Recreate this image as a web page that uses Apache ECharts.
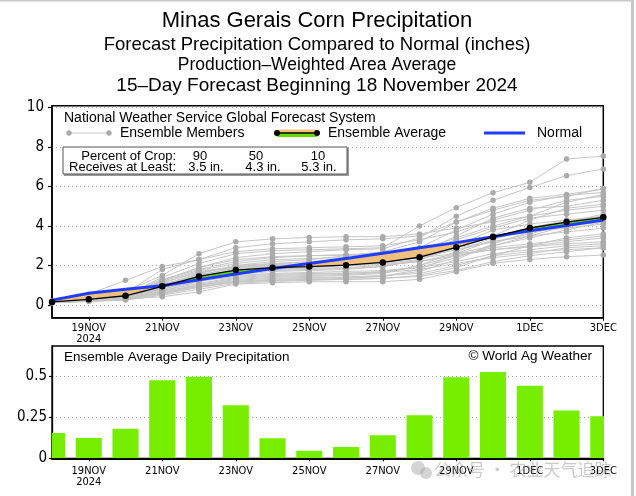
<!DOCTYPE html>
<html><head><meta charset="utf-8">
<script src="https://cdn.jsdelivr.net/npm/echarts@6/dist/echarts.min.js"></script>
<style>html,body{margin:0;padding:0;background:#fff}#c{width:636px;height:496px}</style>
</head><body><div id="c"></div>
<script>
// ---- data ----
const dates = ['18NOV','19NOV','20NOV','21NOV','22NOV','23NOV','24NOV','25NOV','26NOV','27NOV','28NOV','29NOV','30NOV','1DEC','2DEC','3DEC'];
const yearLabel = '2024';
const ensembleAvg = [0.16,0.29,0.47,0.95,1.45,1.77,1.89,1.95,2.02,2.16,2.42,2.92,3.45,3.90,4.20,4.44];
const normalPrecip = [0.25,0.60,0.80,0.98,1.28,1.57,1.85,2.10,2.36,2.62,2.90,3.16,3.46,3.76,4.03,4.30];
const dailyAvg = [0.155,0.124,0.181,0.476,0.497,0.323,0.122,0.046,0.069,0.141,0.262,0.495,0.527,0.442,0.292,0.256];
const ensembleMembers = [
 [0.20,0.55,1.25,1.95,2.30,2.70,2.85,2.90,2.95,3.00,3.30,3.70,4.30,4.80,5.30,5.50],
 [0.18,0.40,0.70,1.50,2.60,3.20,3.35,3.42,3.46,3.46,3.60,3.90,4.20,4.50,4.80,5.00],
 [0.15,0.35,0.60,1.80,2.30,2.90,3.10,3.20,3.30,3.35,3.50,4.20,4.80,5.30,5.50,5.90],
 [0.17,0.30,0.50,1.40,2.10,2.60,2.75,2.80,2.85,2.90,4.00,4.93,5.69,6.21,7.39,7.54],
 [0.16,0.30,0.45,1.20,1.90,2.40,2.60,2.70,2.80,2.85,3.40,4.50,5.30,5.95,6.55,6.89],
 [0.15,0.25,0.40,0.90,1.60,2.00,2.20,2.30,2.50,2.70,3.20,4.20,4.90,5.40,5.60,5.87],
 [0.14,0.28,0.50,1.00,1.50,1.90,2.10,2.20,2.30,2.50,2.90,3.80,4.60,5.20,5.55,5.70],
 [0.16,0.30,0.55,1.30,1.80,2.20,2.40,2.50,2.55,2.60,2.80,3.40,4.00,4.50,5.20,5.60],
 [0.13,0.22,0.35,0.70,1.20,1.60,1.80,1.90,2.00,2.20,2.60,3.50,4.40,4.90,5.00,5.30],
 [0.15,0.30,0.45,0.80,1.30,1.55,1.70,1.75,1.80,1.95,2.30,2.90,3.50,4.30,4.90,5.10],
 [0.17,0.33,0.60,1.10,1.70,1.95,2.05,2.10,2.15,2.20,2.40,2.80,3.20,3.60,4.10,4.50],
 [0.12,0.20,0.30,0.60,1.00,1.30,1.40,1.45,1.50,1.60,2.00,2.70,3.40,3.80,4.20,4.60],
 [0.14,0.25,0.38,0.85,1.40,1.70,1.80,1.85,1.90,2.00,2.20,2.60,3.00,3.40,3.80,4.20],
 [0.15,0.28,0.42,0.95,1.45,1.80,1.95,2.00,2.05,2.10,2.30,3.00,3.80,4.10,4.30,4.40],
 [0.13,0.24,0.35,0.75,1.10,1.40,1.50,1.55,1.60,1.70,1.90,2.40,3.00,3.50,4.00,4.30],
 [0.16,0.32,0.50,1.20,1.75,2.10,2.30,2.35,2.40,2.45,2.60,2.90,3.20,3.50,3.70,3.90],
 [0.12,0.20,0.28,0.55,0.90,1.20,1.30,1.35,1.40,1.45,1.70,2.30,3.10,3.70,4.10,4.30],
 [0.14,0.26,0.40,0.65,1.05,1.35,1.45,1.50,1.55,1.65,2.00,2.50,2.90,3.10,3.30,3.50],
 [0.18,0.35,0.55,1.05,1.55,1.85,1.95,2.00,2.00,2.05,2.20,2.50,2.80,3.00,3.20,3.40],
 [0.11,0.18,0.25,0.50,0.80,1.10,1.20,1.25,1.30,1.35,1.50,1.90,2.50,3.00,3.40,3.60],
 [0.15,0.27,0.45,0.90,1.30,1.50,1.60,1.65,1.70,1.75,1.90,2.20,2.60,2.80,3.00,3.10],
 [0.13,0.23,0.33,0.60,0.95,1.20,1.25,1.28,1.30,1.35,1.45,1.75,2.20,2.50,2.70,2.90],
 [0.12,0.20,0.30,0.42,0.67,1.06,1.13,1.18,1.18,1.18,1.30,1.69,2.11,2.31,2.45,2.53],
 [0.16,0.30,0.48,1.00,1.60,2.00,2.10,2.15,2.20,2.25,2.40,2.60,2.80,2.95,3.10,3.20],
 [0.14,0.25,0.40,0.80,1.20,1.45,1.55,1.60,1.62,1.65,1.80,2.10,2.40,2.60,2.90,3.00],
 [0.15,0.30,0.50,1.15,1.65,1.90,2.00,2.05,2.10,2.30,2.70,3.30,3.90,4.40,4.60,4.80],
 [0.13,0.22,0.32,0.70,1.00,1.25,1.35,1.40,1.42,1.50,1.60,2.00,2.50,2.70,2.80,2.90],
 [0.17,0.32,0.52,1.25,1.90,2.30,2.45,2.50,2.52,2.55,2.70,3.10,3.50,3.70,3.90,4.10],
 [0.14,0.27,0.42,0.60,0.90,1.15,1.25,1.30,1.35,1.45,1.80,2.60,3.30,3.90,4.30,4.50],
 [0.16,0.29,0.46,0.90,1.35,1.65,1.75,1.80,1.85,1.95,2.30,3.00,3.50,3.80,4.00,4.20]
];
const topTicks = [0,2,4,6,8,10];
const bottomTicks = [0,0.25,0.5];
const cropPercent = ['90','50','10'];
const cropAmount = ['3.5 in.','4.3 in.','5.3 in.'];
const titleLines = ['Minas Gerais Corn Precipitation','Forecast Precipitation Compared to Normal (inches)','Production\u2013Weighted Area Average','15\u2013Day Forecast Beginning 18 November 2024'];

// ---- styling ----
const TXT = '"Liberation Sans", Arial, sans-serif';
const NARROW = '"Liberation Sans Narrow","DejaVu Sans Condensed","Liberation Sans", sans-serif';
const GRAY_LINE = '#c6c6c6', GRAY_DOT = '#ababab', BLUE = '#1f3cff', ORANGE = '#efc17c', GREEN = '#66dd00', BAR = '#77ee00';

const chart = echarts.init(document.getElementById('c'), null, {renderer:'canvas'});

function xAxisCfg(grid, margin){
  return {
    gridIndex: grid, type:'category', data: dates, boundaryGap:false,
    axisLine:{show:true, onZero:false, lineStyle:{color:'#000', width: grid===0?1.5:2}},
    axisTick:{show:true, interval:(i)=>i%2===1, length:3, lineStyle:{color:'#000', width:1}},
    axisLabel:{interval:(i)=>i%2===1, margin: margin, color:'#000', fontSize:11, fontFamily:NARROW, lineHeight:11,
      formatter:(v)=> v===dates[1] ? v+'\n'+yearLabel : v},
    splitLine:{show:false}
  };
}

const memberSeries = ensembleMembers.map((m)=>({
  type:'line', xAxisIndex:0, yAxisIndex:0, data:m, symbol:'circle', symbolSize:5.5,
  lineStyle:{color:GRAY_LINE, width:1}, itemStyle:{color:GRAY_DOT}, silent:true, z:2
}));

const bandSeries = {
  type:'custom', xAxisIndex:0, yAxisIndex:0, z:3, silent:true,
  data: ensembleAvg.map((v,i)=>[i, v, normalPrecip[i]]),
  renderItem:function(params, api){
    const i = params.dataIndex;
    if (i >= dates.length-1) return null;
    const a0 = ensembleAvg[i], a1 = ensembleAvg[i+1], n0 = normalPrecip[i], n1 = normalPrecip[i+1];
    const pa0 = api.coord([i, a0]), pa1 = api.coord([i+1, a1]);
    const pn0 = api.coord([i, n0]), pn1 = api.coord([i+1, n1]);
    const d0 = a0-n0, d1 = a1-n1;
    const kids = [];
    const col = (d)=> d>=0 ? GREEN : ORANGE;
    if (d0*d1 >= 0) {
      kids.push({type:'polygon', shape:{points:[pa0,pa1,pn1,pn0]}, style:{fill:col(d0+d1)}});
    } else {
      const t = d0/(d0-d1);
      const px = [pa0[0]+t*(pa1[0]-pa0[0]), pa0[1]+t*(pa1[1]-pa0[1])];
      kids.push({type:'polygon', shape:{points:[pa0,px,pn0]}, style:{fill:col(d0)}});
      kids.push({type:'polygon', shape:{points:[px,pa1,pn1]}, style:{fill:col(d1)}});
    }
    return {type:'group', children:kids};
  }
};

const barSeries = {
  type:'custom', xAxisIndex:1, yAxisIndex:1, clip:true, silent:true, z:2,
  data: dailyAvg.map((v,i)=>[i, v]),
  encode:{x:0, y:1},
  renderItem:function(params, api){
    const i = api.value(0), v = api.value(1);
    const top = api.coord([i, v]), base = api.coord([i, 0]);
    const w = api.size([1, 0])[0] * 0.71;
    return {type:'rect', shape:{x:top[0]-w/2, y:top[1], width:w, height:base[1]-top[1]}, style:{fill:BAR}};
  }
};

function txt(text, x, y, size, align, extra){
  return Object.assign({type:'text', x:x, y:y, silent:true, z:100,
    style:{text:text, fill:'#000', font: size+'px '+TXT, align:align||'left', verticalAlign:'middle'}}, extra||{});
}

const graphics = [
  {type:'rect', shape:{x:631, y:0, width:3, height:496}, style:{fill:'#c8c8c8'}, silent:true},
  {type:'rect', shape:{x:0, y:0, width:634, height:1.5}, style:{fill:'#c8c8c8'}, silent:true},
  txt(titleLines[0], 317, 21, 22, 'center'),
  txt(titleLines[1], 317, 45, 18.5, 'center'),
  txt(titleLines[2], 317, 65, 17.5, 'center'),
  txt(titleLines[3], 317, 86, 19, 'center'),
  // y axis names
  txt('inches', 13, 206, 14, 'center', {rotation: Math.PI/2, originX:13, originY:206}),
  txt('inches', 13, 405, 14, 'center', {rotation: Math.PI/2, originX:13, originY:405}),
  // legend inside top plot
  txt('National Weather Service Global Forecast System', 64, 118, 14),
  {type:'line', shape:{x1:69, y1:133, x2:109, y2:133}, style:{stroke:GRAY_LINE, lineWidth:1.2}, silent:true},
  {type:'circle', shape:{cx:69, cy:133, r:2.7}, style:{fill:GRAY_DOT}, silent:true},
  {type:'circle', shape:{cx:109, cy:133, r:2.7}, style:{fill:GRAY_DOT}, silent:true},
  txt('Ensemble Members', 120, 133, 14),
  {type:'rect', shape:{x:277, y:129.5, width:40, height:3.5}, style:{fill:ORANGE}, silent:true},
  {type:'rect', shape:{x:277, y:133, width:40, height:4}, style:{fill:GREEN}, silent:true},
  {type:'line', shape:{x1:277, y1:133, x2:317, y2:133}, style:{stroke:'#000', lineWidth:1.3}, silent:true},
  {type:'circle', shape:{cx:277, cy:133, r:3}, style:{fill:'#000'}, silent:true},
  {type:'circle', shape:{cx:317, cy:133, r:3}, style:{fill:'#000'}, silent:true},
  txt('Ensemble Average', 328, 133, 14),
  {type:'line', shape:{x1:484, y1:133, x2:525, y2:133}, style:{stroke:BLUE, lineWidth:3}, silent:true},
  txt('Normal', 537, 133, 14),
  // crop box
  {type:'rect', shape:{x:64, y:148, width:285, height:28}, style:{fill:'#9a9a9a'}, silent:true, z:90},
  {type:'rect', shape:{x:63, y:147, width:284, height:27}, style:{fill:'#fff', stroke:'#555', lineWidth:1}, silent:true, z:91},
  txt('Percent of Crop:', 176, 156, 13, 'right'),
  txt('Receives at Least:', 176, 167, 13, 'right'),
  txt(cropPercent[0], 200, 156, 13, 'center'),
  txt(cropPercent[1], 256, 156, 13, 'center'),
  txt(cropPercent[2], 318, 156, 13, 'center'),
  txt(cropAmount[0], 206, 167, 13, 'center'),
  txt(cropAmount[1], 263, 167, 13, 'center'),
  txt(cropAmount[2], 319, 167, 13, 'center'),
  // bottom plot labels
  txt('Ensemble Average Daily Precipitation', 64, 357, 13.5),
  txt('\u00a9 World Ag Weather', 592, 356, 13.5, 'right'),
  // watermark
  {type:'circle', shape:{cx:418, cy:468, r:7}, style:{fill:'rgba(170,170,170,0.5)'}, silent:true, z:120},
  {type:'circle', shape:{cx:426, cy:473, r:6}, style:{fill:'rgba(170,170,170,0.5)'}, silent:true, z:120},
  {type:'text', x:434, y:470, silent:true, z:120, style:{text:'\u516c\u4f17\u53f7 \u00b7 \u519c\u4e1a\u5929\u6c14\u8ffd\u8e2a', fill:'rgba(160,160,160,0.55)', font:'17px "Noto Sans CJK SC", sans-serif', align:'left', verticalAlign:'middle'}}
];

const option = {
  animation:false,
  backgroundColor:'#fff',
  grid:[
    {left:52, right:32.7, top:105.7, bottom:178.3, show:true, borderColor:'#000', borderWidth:1.5, backgroundColor:'transparent'},
    {left:52, right:32.7, top:346, bottom:37.7, show:true, borderColor:'#000', borderWidth:1.3, backgroundColor:'transparent'}
  ],
  xAxis:[ xAxisCfg(0, 5), xAxisCfg(1, 7) ],
  yAxis:[
    {gridIndex:0, type:'value', min:-0.64, max:10.09,
     axisLine:{show:true, lineStyle:{color:'#000', width:1.5}},
     axisTick:{show:true, customValues:topTicks, length:4, lineStyle:{color:'#000', width:1.2}},
     axisLabel:{customValues:topTicks, margin:8, color:'#000', fontSize:15, fontFamily:NARROW},
     splitLine:{show:true, lineStyle:{color:'#a8a8a8', width:1, type:[1,3]}}},
    {gridIndex:1, type:'value', min:0, max:0.685,
     axisLine:{show:true, lineStyle:{color:'#000', width:1.3}},
     axisTick:{show:true, customValues:bottomTicks, length:3, lineStyle:{color:'#000', width:1.2}},
     axisLabel:{customValues:bottomTicks, margin:5, color:'#000', fontSize:15, fontFamily:NARROW, formatter:(v)=>String(v)},
     splitLine:{show:true, lineStyle:{color:'#a8a8a8', width:1, type:[1,3]}}}
  ],
  series: memberSeries.concat([
    bandSeries,
    {type:'line', xAxisIndex:0, yAxisIndex:0, data:normalPrecip, symbol:'none', lineStyle:{color:BLUE, width:3}, z:4, silent:true},
    {type:'line', xAxisIndex:0, yAxisIndex:0, data:ensembleAvg, symbol:'circle', symbolSize:6.5, lineStyle:{color:'#000', width:1.3}, itemStyle:{color:'#000'}, z:5, silent:true},
    barSeries
  ]),
  graphic: graphics
};
chart.setOption(option);
</script></body></html>
